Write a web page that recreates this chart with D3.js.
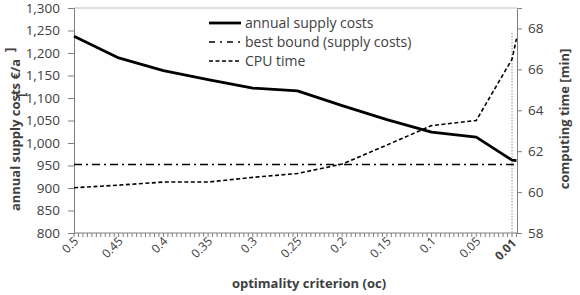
<!DOCTYPE html>
<html>
<head>
<meta charset="utf-8">
<script src="https://cdn.jsdelivr.net/npm/d3@7"></script>
<style>
  body { margin: 0; background: #fff; }
  text { font-family: "Open Sans", sans-serif; fill: #404040; }
</style>
</head>
<body>
<div id="chart"></div>
<script>
// data
const criterion = [0.5, 0.45, 0.4, 0.35, 0.3, 0.25, 0.2, 0.15, 0.1, 0.05, 0.01, 0.005];
const supplyCosts = [1237, 1189, 1161, 1141, 1122, 1116, 1083, 1052, 1024, 1013, 962, 961];
const bestBound = [952, 952, 952, 952, 952, 952, 952, 952, 952, 952, 952, 952];
const cpuTime = [60.21, 60.34, 60.49, 60.49, 60.72, 60.91, 61.37, 62.3, 63.25, 63.5, 66.5, 67.5];
const costTicks = [800, 850, 900, 950, 1000, 1050, 1100, 1150, 1200, 1250, 1300];
const timeTicks = [58, 60, 62, 64, 66, 68];
const criterionLabels = [0.5, 0.45, 0.4, 0.35, 0.3, 0.25, 0.2, 0.15, 0.1, 0.05, 0.01];
const seriesNames = ["annual supply costs", "best bound (supply costs)", "CPU time"];

// set the dimensions and margins of the graph
const W = 580, H = 295;
const margin = { top: 8, right: 63, bottom: 62, left: 74 },
  width = W - margin.left - margin.right,
  height = H - margin.top - margin.bottom;

const svg = d3
  .select("#chart")
  .append("svg")
  .attr("width", W)
  .attr("height", H);

const g = svg.append("g").attr("transform", `translate(${margin.left},${margin.top})`);

const x = d3.scaleLinear().domain([0.5, 0.005]).range([0, width - 0.5]);
const yCost = d3.scaleLinear().domain([800, 1300]).range([height, 0]);
const yTime = d3.scaleLinear().domain([58, 69]).range([height, 0]);

const axisColor = "#7f7f7f";

// plot frame (top border)
g.append("line")
  .attr("x1", 0).attr("x2", width)
  .attr("y1", 0).attr("y2", 0)
  .attr("stroke", "#bfbfbf");

// left axis
const left = g.append("g")
  .call(d3.axisLeft(yCost).tickValues(costTicks).tickSize(6).tickPadding(8)
    .tickFormat(d3.format(",")));
left.select(".domain").attr("stroke", axisColor);
left.selectAll(".tick line").attr("stroke", axisColor);
left.selectAll("text").style("font-size", "13.5px");

// right axis
const right = g.append("g")
  .attr("transform", `translate(${width},0)`)
  .call(d3.axisRight(yTime).tickValues(timeTicks).tickSize(5).tickPadding(6));
right.select(".domain").attr("stroke", axisColor);
right.selectAll(".tick line").attr("stroke", axisColor);
right.selectAll("text").style("font-size", "13.5px");

// bottom axis: small ticks every 0.005, labels rotated
const bottom = g.append("g").attr("transform", `translate(0,${height})`);
bottom.append("line")
  .attr("x1", 0).attr("x2", width)
  .attr("stroke", axisColor);
bottom.selectAll("line.minor")
  .data(d3.range(0, 100))
  .join("line")
  .attr("class", "minor")
  .attr("x1", (i) => x(0.5 - i * 0.005))
  .attr("x2", (i) => x(0.5 - i * 0.005))
  .attr("y1", 0).attr("y2", 4)
  .attr("stroke", axisColor);
bottom.selectAll("text")
  .data(criterionLabels)
  .join("text")
  .attr("transform", (d) => `translate(${x(d) + 5},${d === 0.01 ? 11 : 9}) rotate(-45)`)
  .attr("text-anchor", "end")
  .style("font-size", "12px")
  .style("font-weight", (d) => (d === 0.01 ? "bold" : "normal"))
  .text((d) => d);

// dotted marker at oc = 0.01
g.append("line")
  .attr("x1", x(0.01)).attr("x2", x(0.01))
  .attr("y1", 25).attr("y2", height)
  .attr("stroke", "#a6a6a6")
  .attr("stroke-width", 1.2)
  .attr("stroke-dasharray", "1.5,1.5");

// lines
const costLine = d3.line().x((d, i) => x(criterion[i])).y((d) => yCost(d));
const timeLine = d3.line().x((d, i) => x(criterion[i])).y((d) => yTime(d));

g.append("path")
  .attr("d", costLine(bestBound))
  .attr("fill", "none")
  .attr("stroke", "#000")
  .attr("stroke-width", 1.5)
  .attr("stroke-dasharray", "8,4,2,4");

g.append("path")
  .attr("d", timeLine(cpuTime))
  .attr("fill", "none")
  .attr("stroke", "#000")
  .attr("stroke-width", 1.6)
  .attr("stroke-dasharray", "4,2.5");

g.append("path")
  .attr("d", costLine(supplyCosts))
  .attr("fill", "none")
  .attr("stroke", "#000")
  .attr("stroke-width", 2.8)
  .attr("stroke-linejoin", "round");

// legend
const legendStyles = [
  { w: 2.8, dash: null },
  { w: 1.5, dash: "6,5,2,5" },
  { w: 1.6, dash: "4,2.5" },
];
const legend = svg.append("g").attr("transform", "translate(209,23)");
seriesNames.forEach((name, i) => {
  const row = legend.append("g").attr("transform", `translate(0,${i * 19})`);
  row.append("line")
    .attr("x1", 0).attr("x2", 32)
    .attr("stroke", "#000")
    .attr("stroke-width", legendStyles[i].w)
    .attr("stroke-dasharray", legendStyles[i].dash);
  row.append("text")
    .attr("x", 36).attr("y", 5)
    .style("font-size", "14px")
    .text(name);
});

// axis titles
svg.append("text")
  .attr("transform", `translate(20,135) rotate(-90)`)
  .attr("text-anchor", "middle")
  .style("font-size", "13px")
  .style("font-weight", "bold")
  .text("annual supply costs €/a");
svg.append("text")
  .attr("transform", `translate(25,97) rotate(-90)`)
  .style("font-size", "13px")
  .style("font-weight", "bold")
  .text("[");
svg.append("text")
  .attr("transform", `translate(14,52) rotate(-90)`)
  .style("font-size", "13px")
  .style("font-weight", "bold")
  .text("]");

svg.append("text")
  .attr("transform", `translate(569,119) rotate(-90)`)
  .attr("text-anchor", "middle")
  .style("font-size", "13px")
  .style("font-weight", "bold")
  .text("computing time [min]");

svg.append("text")
  .attr("x", 309).attr("y", 288)
  .attr("text-anchor", "middle")
  .style("font-size", "13px")
  .style("font-weight", "bold")
  .text("optimality criterion (oc)");
</script>
</body>
</html>
